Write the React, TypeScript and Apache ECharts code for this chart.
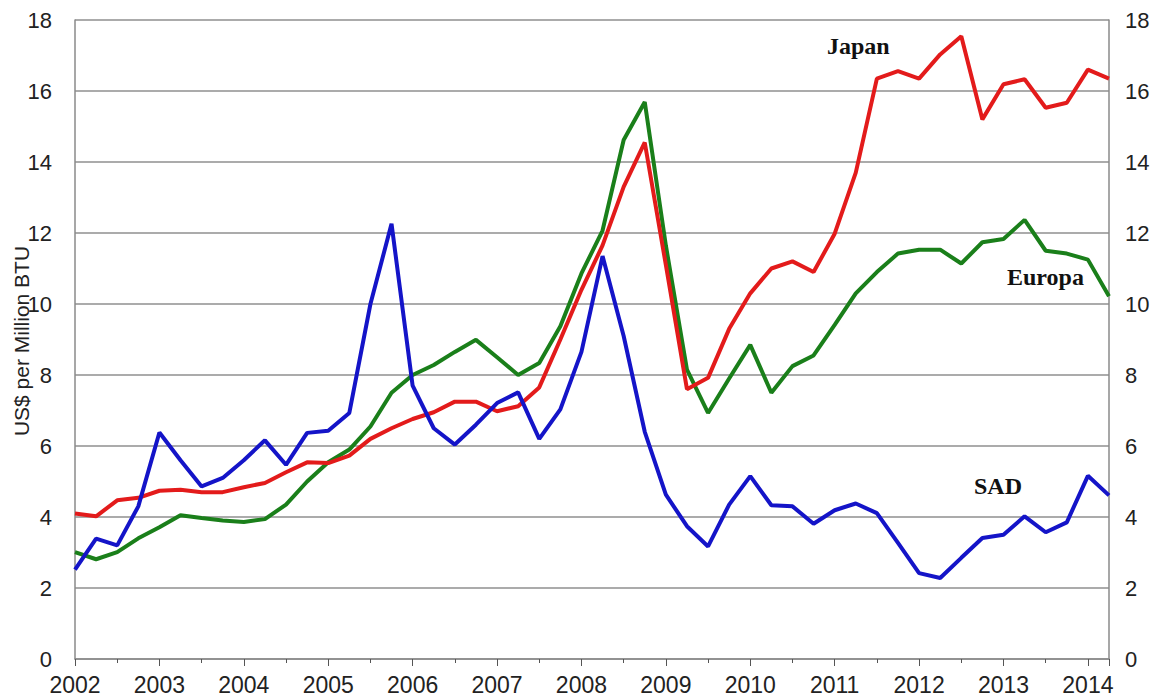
import React, { useEffect, useRef } from "react";
import * as echarts from "echarts";

// Year tick labels (one label every 4 quarters)
const yearLabels = ["2002", "2003", "2004", "2005", "2006", "2007", "2008", "2009", "2010", "2011", "2012", "2013", "2014"];

// Quarterly prices, US$ per Million BTU, 2002Q1 .. 2014Q2
const sad = [
  2.52, 3.39, 3.2, 4.3, 6.38, 5.6, 4.86, 5.1, 5.6, 6.16, 5.47, 6.37, 6.43, 6.93, 10.0, 12.26,
  7.7, 6.5, 6.04, 6.6, 7.21, 7.51, 6.2, 7.03, 8.65, 11.35, 9.1, 6.4, 4.63, 3.74, 3.17, 4.35,
  5.15, 4.33, 4.3, 3.81, 4.19, 4.38, 4.11, 3.27, 2.42, 2.28, 2.85, 3.41, 3.5, 4.02, 3.57, 3.85,
  5.16, 4.61,
];

const japan = [
  4.1, 4.02, 4.47, 4.54, 4.74, 4.77, 4.7, 4.7, 4.84, 4.96, 5.26, 5.54, 5.52, 5.73, 6.2, 6.5,
  6.76, 6.95, 7.25, 7.25, 6.98, 7.12, 7.65, 9.0, 10.4, 11.65, 13.3, 14.55, 11.1, 7.6, 7.92, 9.3,
  10.3, 11.0, 11.2, 10.9, 11.98, 13.7, 16.35, 16.56, 16.35, 17.03, 17.54, 15.2, 16.19, 16.33, 15.53, 15.67,
  16.6, 16.35,
];

const europa = [
  3.01, 2.81, 3.01, 3.4, 3.71, 4.05, 3.97, 3.9, 3.86, 3.94, 4.35, 5.0, 5.54, 5.9, 6.55, 7.5,
  8.0, 8.28, 8.65, 8.99, 8.5, 8.0, 8.34, 9.37, 10.86, 12.07, 14.62, 15.69, 11.65, 8.15, 6.93, 7.9,
  8.85, 7.5, 8.25, 8.55, 9.41, 10.3, 10.9, 11.42, 11.53, 11.53, 11.14, 11.74, 11.83, 12.37, 11.5, 11.42,
  11.25, 10.22,
];

const seriesNames = ["Japan", "Europa", "SAD"];
const yAxisTitle = "US$ per Million BTU";

export default function App() {
  const ref = useRef<HTMLDivElement>(null);

  useEffect(() => {
    if (!ref.current) return;
    const chart = echarts.init(ref.current, undefined, { renderer: "svg" });
    const toPts = (arr: number[]) => arr.map((v, i) => [i, v]);
    const axisFont = { fontFamily: "Liberation Sans, Arial, sans-serif", color: "#222" };
    const gridColor = "#8f8f8f";
    const labelFont = "bold 24px 'Liberation Serif', 'Times New Roman', serif";

    chart.setOption({
      animation: false,
      backgroundColor: "#ffffff",
      grid: { left: 75, right: 59, top: 20, bottom: 41, containLabel: false, outerBoundsMode: "none" },
      xAxis: {
        type: "value",
        min: 0,
        max: sad.length - 1,
        interval: 4,
        axisLine: { show: true, onZero: false, lineStyle: { color: "#8a8a8a", width: 1.5 } },
        axisTick: { show: true, length: 7, lineStyle: { color: "#555", width: 1 } },
        minorTick: { show: true, splitNumber: 2, length: 4, lineStyle: { color: "#555", width: 1 } },
        splitLine: { show: false },
        axisLabel: {
          ...axisFont,
          fontSize: 23,
          margin: 14,
          formatter: (v: number) => (v % 4 === 0 ? yearLabels[v / 4] ?? "" : ""),
        },
      },
      yAxis: [
        {
          type: "value",
          min: 0,
          max: 18,
          interval: 2,
          position: "left",
          axisLine: { show: true, lineStyle: { color: "#8a8a8a", width: 1.5 } },
          axisTick: { show: false },
          splitLine: { show: true, lineStyle: { color: gridColor, width: 1.5 } },
          axisLabel: { ...axisFont, fontSize: 22, margin: 23 },
        },
        {
          type: "value",
          min: 0,
          max: 18,
          interval: 2,
          position: "right",
          axisLine: { show: true, lineStyle: { color: "#8a8a8a", width: 1.5 } },
          axisTick: { show: false },
          splitLine: { show: false },
          axisLabel: { ...axisFont, fontSize: 22, margin: 16 },
        },
      ],
      series: [
        {
          name: seriesNames[0],
          type: "line",
          data: toPts(japan),
          showSymbol: false,
          lineStyle: { color: "#e31b1b", width: 4 },
          itemStyle: { color: "#e31b1b" },
          z: 3,
        },
        {
          name: seriesNames[1],
          type: "line",
          data: toPts(europa),
          showSymbol: false,
          lineStyle: { color: "#1a7f1a", width: 4 },
          itemStyle: { color: "#1a7f1a" },
          z: 2,
        },
        {
          name: seriesNames[2],
          type: "line",
          data: toPts(sad),
          showSymbol: false,
          lineStyle: { color: "#1414c8", width: 4 },
          itemStyle: { color: "#1414c8" },
          z: 4,
        },
      ],
      graphic: [
        {
          type: "text",
          x: 21,
          y: 341,
          rotation: Math.PI / 2,
          style: {
            text: yAxisTitle,
            font: "21px 'Liberation Sans', Arial, sans-serif",
            fill: "#222",
            align: "center",
            verticalAlign: "middle",
          },
        },
        { type: "text", x: 827, y: 46, style: { text: seriesNames[0], font: labelFont, fill: "#111", verticalAlign: "middle" } },
        { type: "text", x: 1007, y: 277, style: { text: seriesNames[1], font: labelFont, fill: "#111", verticalAlign: "middle" } },
        { type: "text", x: 974, y: 486, style: { text: seriesNames[2], font: labelFont, fill: "#111", verticalAlign: "middle" } },
      ],
    });

    return () => chart.dispose();
  }, []);

  return (
    <div
      ref={ref}
      style={{ position: "fixed", left: 0, top: 0, width: 1168, height: 700, background: "#fff" }}
    />
  );
}
